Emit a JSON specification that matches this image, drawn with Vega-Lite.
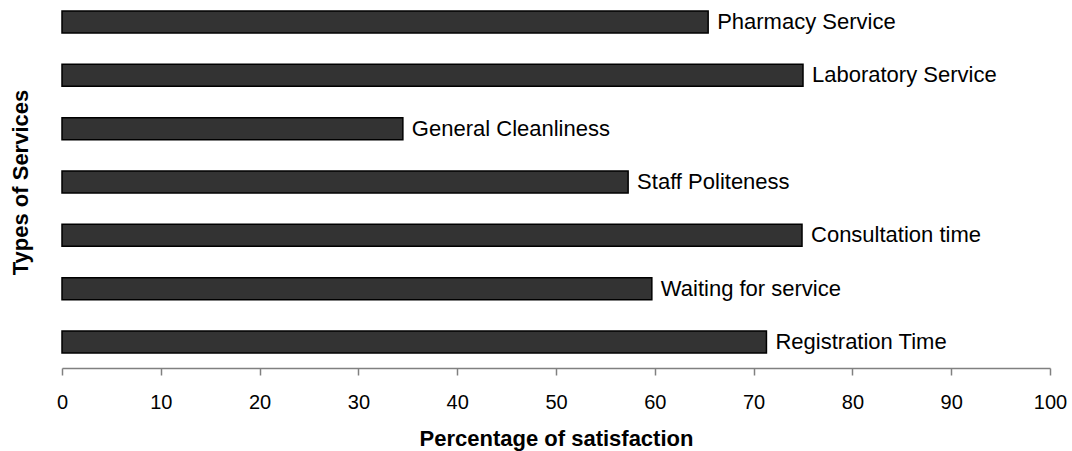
{
  "$schema": "https://vega.github.io/schema/vega-lite/v6.json",
  "width": 988,
  "height": 364,
  "autosize": "none",
  "padding": {"left": 62, "top": 0, "right": 22, "bottom": 87},
  "background": "white",
  "config": {
    "view": {"stroke": null},
    "font": "Liberation Sans"
  },
  "data": {
    "values": [
      {"service": "Pharmacy Service", "pct": 65.4},
      {"service": "Laboratory Service", "pct": 75.0},
      {"service": "General Cleanliness", "pct": 34.5},
      {"service": "Staff Politeness", "pct": 57.3},
      {"service": "Consultation time", "pct": 74.9},
      {"service": "Waiting for service", "pct": 59.7},
      {"service": "Registration Time", "pct": 71.3}
    ]
  },
  "encoding": {
    "y": {
      "field": "service",
      "type": "nominal",
      "sort": null,
      "scale": {"paddingInner": 0.587, "paddingOuter": 0.207},
      "axis": {
        "title": "Types of Services",
        "labels": false,
        "ticks": false,
        "domain": false,
        "titleFont": "Liberation Sans",
        "titleFontSize": 22,
        "titleFontWeight": "bold",
        "titleColor": "black",
        "titleX": -35,
        "titleY": 182,
        "titleAngle": 270,
        "titleAlign": "center",
        "titleBaseline": "alphabetic"
      }
    },
    "x": {
      "field": "pct",
      "type": "quantitative",
      "scale": {"domain": [0, 100], "nice": false},
      "axis": {
        "title": "Percentage of satisfaction",
        "values": [0, 10, 20, 30, 40, 50, 60, 70, 80, 90, 100],
        "grid": false,
        "offset": 4,
        "domainColor": "#808080",
        "domainWidth": 1.5,
        "tickColor": "#808080",
        "tickWidth": 1.5,
        "tickSize": 7,
        "labelFont": "Liberation Sans",
        "labelFontSize": 20,
        "labelColor": "black",
        "labelPadding": 17,
        "labelFlush": false,
        "titleFont": "Liberation Sans",
        "titleFontSize": 22,
        "titleFontWeight": "bold",
        "titleColor": "black",
        "titleY": 77,
        "titleBaseline": "alphabetic"
      }
    }
  },
  "layer": [
    {
      "mark": {"type": "bar", "fill": "#333333", "stroke": "black", "strokeWidth": 1.5}
    },
    {
      "mark": {"type": "text", "align": "left", "baseline": "middle", "dx": 9, "fontSize": 22, "font": "Liberation Sans", "color": "black"},
      "encoding": {"text": {"field": "service"}}
    }
  ]
}
